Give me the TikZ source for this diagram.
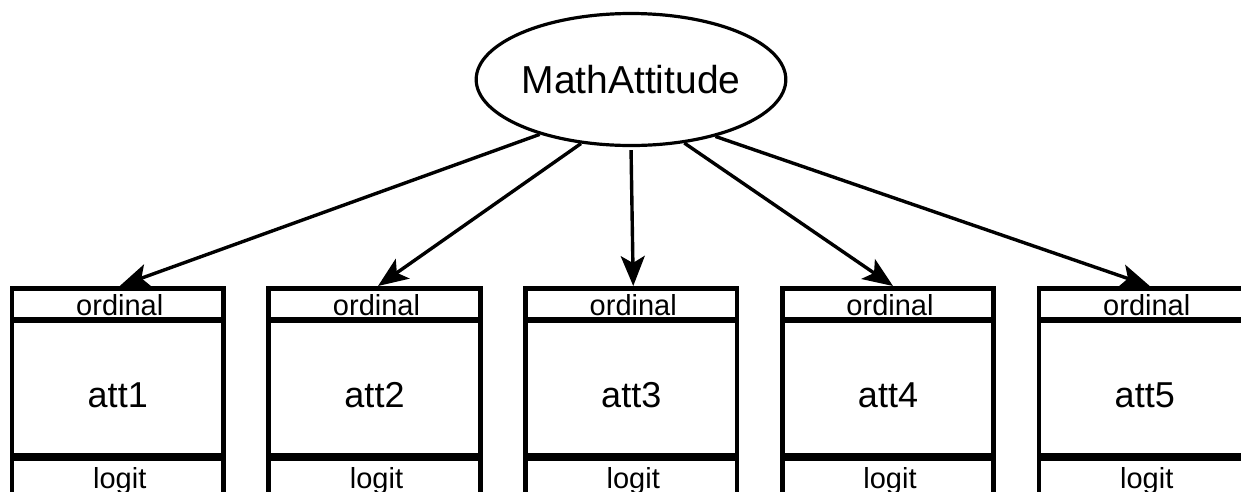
\documentclass[tikz,border=0pt]{standalone}
\usepackage{fontspec}
\setmainfont{Liberation Sans}
\usetikzlibrary{shapes.geometric,arrows.meta}
\begin{document}
\begin{tikzpicture}[x=1pt,y=-1pt,
 band/.style={draw,line width=4.8pt,rectangle,minimum width=211.5pt,inner sep=0pt,outer sep=0pt},
 latent/.style={draw,ellipse,line width=3.2pt,minimum width=265pt,minimum height=132pt,inner sep=0pt,font=\fontsize{39pt}{39pt}\selectfont},
 conn/.style={line width=3.4pt,-{Stealth[length=30pt,width=24pt,inset=7pt]}},
 lbl/.style={anchor=base,inner sep=0pt,font=\fontsize{29pt}{29pt}\selectfont},
 var/.style={anchor=base,inner sep=0pt,font=\fontsize{36pt}{36pt}\selectfont}
]
\path[use as bounding box,clip] (0,0) rectangle (1241,491);
\fill[white] (0,0) rectangle (1241,491);
\node[latent] (M) at (631,79.5) {MathAttitude};
\foreach \i in {1,...,5}{
 \pgfmathsetmacro\cx{117.75+256.75*(\i-1)}
 \node[band,minimum height=31.5pt] (ord\i) at (\cx,304.25) {};
 \node[band,minimum height=137pt] (att\i) at (\cx,388.5) {};
 \node[band,minimum height=73pt] (log\i) at (\cx,493.5) {};
 \draw[line width=6.5pt] (ord\i.south west) -- (ord\i.south east);
 \draw[line width=8pt] (att\i.south west) -- (att\i.south east);
 \node[lbl] (ordt\i) at (\cx+2,315) {ordinal};
 \node[var] (attt\i) at (\cx,407) {att\i};
 \node[lbl] (logt\i) at (\cx+2,488) {logit};
}
\draw[conn] (M.211) -- ([xshift=2pt,yshift=2.5pt]ord1.north);
\draw[conn] (M.232) -- ([xshift=3.5pt,yshift=2.5pt]ord2.north);
\draw[conn,shorten <=3pt] (M.270) -- ([xshift=2pt,yshift=2.5pt]ord3.north);
\draw[conn] (M.310) -- ([xshift=5pt,yshift=2.5pt]ord4.north);
\draw[conn] (M.326) -- ([xshift=5pt,yshift=2.5pt]ord5.north);
\end{tikzpicture}
\end{document}
